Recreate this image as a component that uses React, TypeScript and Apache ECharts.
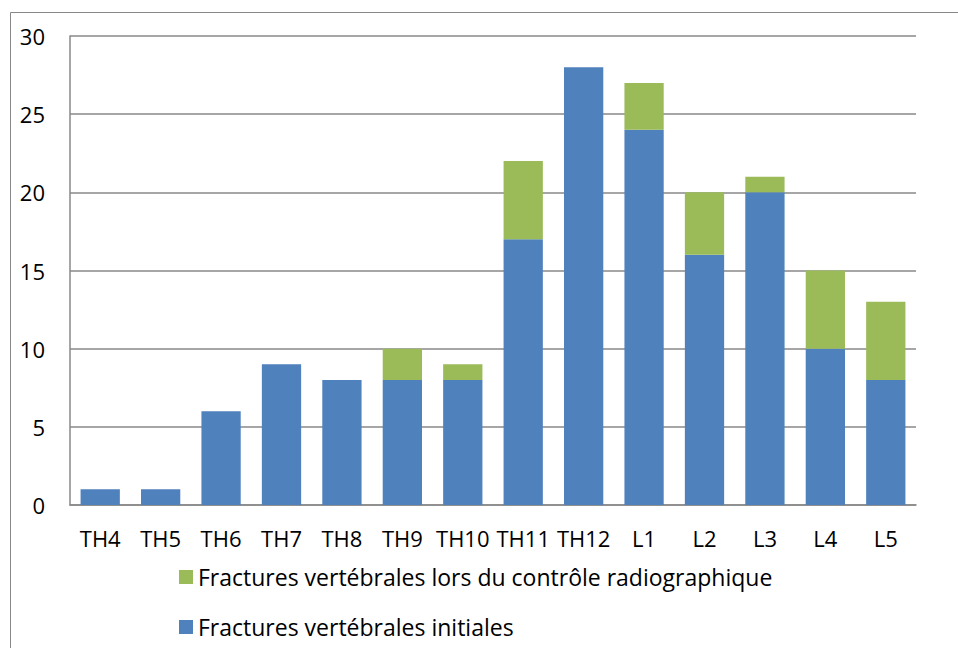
import React, { useEffect, useRef } from "react";
import * as echarts from "echarts";

const categories = ["TH4", "TH5", "TH6", "TH7", "TH8", "TH9", "TH10", "TH11", "TH12", "L1", "L2", "L3", "L4", "L5"];
const initialValues = [1, 1, 6, 9, 8, 8, 8, 17, 28, 24, 16, 20, 10, 8];
const controlValues = [0, 0, 0, 0, 0, 2, 1, 5, 0, 3, 4, 1, 5, 5];
const seriesNames = [
  "Fractures vertébrales lors du contrôle radiographique",
  "Fractures vertébrales initiales",
];

export default function App() {
  const ref = useRef<HTMLDivElement>(null);
  useEffect(() => {
    if (!ref.current) return;
    const chart = echarts.init(ref.current, null, { renderer: "svg" });
    const font = "'Open Sans', sans-serif";
    const legendText = { fontFamily: font, fontSize: 23, color: "#000", lineHeight: 28 };
    chart.setOption({
      animation: false,
      backgroundColor: "#ffffff",
      graphic: [
        {
          type: "rect",
          shape: { x: 10.5, y: 12.5, width: 1000, height: 1000 },
          style: { fill: "none", stroke: "#888888", lineWidth: 1 },
          silent: true,
        },
      ],
      grid: { left: 70, right: 42, top: 36, bottom: 143, containLabel: false },
      legend: [
        {
          orient: "horizontal",
          left: 174,
          top: 558,
          itemWidth: 14,
          itemHeight: 14,
          itemGap: 6,
          icon: "rect",
          data: [seriesNames[0]],
          textStyle: legendText,
        },
        {
          orient: "horizontal",
          left: 174,
          top: 608,
          itemWidth: 14,
          itemHeight: 14,
          icon: "rect",
          data: [seriesNames[1]],
          textStyle: legendText,
        },
      ],
      xAxis: {
        type: "category",
        data: categories,
        axisLine: { lineStyle: { color: "#888888", width: 1.5 } },
        axisTick: { show: false },
        axisLabel: { fontFamily: font, fontSize: 22, color: "#000", margin: 22, interval: 0 },
      },
      yAxis: {
        type: "value",
        min: 0,
        max: 30,
        interval: 5,
        axisLine: { show: true, lineStyle: { color: "#888888", width: 1.5 } },
        axisTick: { show: false },
        axisLabel: { fontFamily: font, fontSize: 22, color: "#000", margin: 25 },
        splitLine: { lineStyle: { color: "#888888", width: 1.5 } },
      },
      series: [
        {
          name: seriesNames[1],
          type: "bar",
          stack: "total",
          data: initialValues,
          barCategoryGap: "35%",
          itemStyle: { color: "#4F81BD" },
        },
        {
          name: seriesNames[0],
          type: "bar",
          stack: "total",
          data: controlValues,
          barCategoryGap: "35%",
          itemStyle: { color: "#9BBB59" },
        },
      ],
    });
    return () => chart.dispose();
  }, []);
  return (
    <div
      ref={ref}
      style={{ position: "fixed", left: 0, top: 0, width: 958, height: 648 }}
    />
  );
}
